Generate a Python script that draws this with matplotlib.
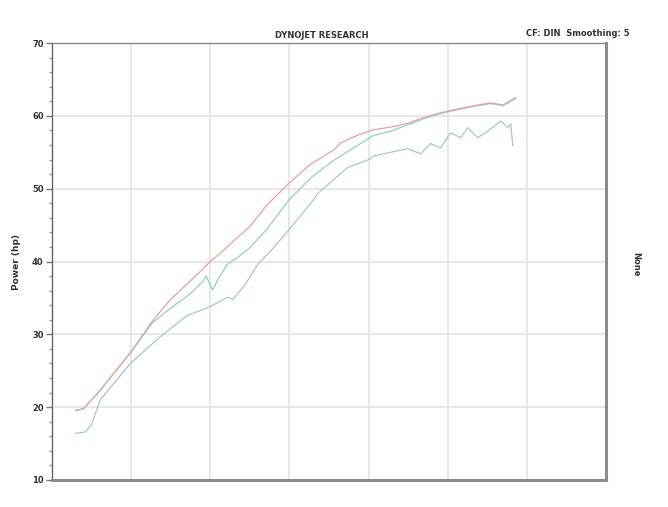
import numpy as np
import matplotlib.pyplot as plt
from matplotlib.ticker import MultipleLocator, NullFormatter

# dyno run data (rpm vs hp)
rpm_a = [2300, 2400, 2600, 3000, 3280, 3500, 3870, 4000, 4165, 4290, 4500, 4720, 4990,
         5270, 5560, 5650, 5850, 6060, 6300, 6500, 6700, 6900, 7100, 7330, 7540, 7700, 7860]
hp_a = [19.5, 19.8, 22.2, 27.6, 32.0, 34.8, 38.6, 40.0, 41.5, 42.8, 44.8, 47.8, 50.7,
        53.4, 55.3, 56.3, 57.3, 58.1, 58.5, 59.0, 59.8, 60.4, 60.9, 61.4, 61.8, 61.5, 62.5]

rpm_b = [2300, 2400, 2600, 3000, 3270, 3500, 3750, 3910, 3950, 4030, 4100, 4215, 4350, 4500,
         4720, 4990, 5270, 5560, 5810, 6060, 6280, 6500, 6700, 6900, 7100, 7330, 7540, 7700, 7860]
hp_b = [19.6, 19.8, 22.2, 27.6, 31.6, 33.6, 35.6, 37.3, 38.0, 36.1, 37.6, 39.6, 40.6, 41.9,
        44.5, 48.4, 51.5, 53.9, 55.6, 57.3, 57.9, 58.8, 59.6, 60.3, 60.8, 61.3, 61.7, 61.4, 62.4]

rpm_c = [2300, 2420, 2500, 2610, 2990, 3370, 3710, 4000, 4215, 4290, 4450, 4600, 4800,
         4990, 5300, 5354, 5734, 6025, 6063, 6494, 6658, 6785, 6911, 7038, 7165, 7253,
         7380, 7506, 7671, 7759, 7797, 7823]
hp_c = [16.4, 16.6, 17.6, 21.0, 26.0, 29.7, 32.6, 33.8, 35.1, 34.8, 37.0, 39.6, 41.9,
        44.3, 48.4, 49.3, 52.9, 54.1, 54.5, 55.5, 54.8, 56.2, 55.6, 57.7, 57.0, 58.4,
        57.0, 57.9, 59.3, 58.4, 58.9, 55.9]

fig = plt.figure(figsize=(6.68, 5.07), dpi=100)
ax = fig.add_axes([0.0778, 0.0533, 0.8293, 0.8617])

ax.plot(rpm_c, hp_c, color='#a3cbc0', lw=0.9)
ax.plot(rpm_b, hp_b, color='#93d1bf', lw=0.9)
ax.plot(rpm_a, hp_a, color='#e8a0a0', lw=0.9)

ax.set_xlim(2000, 9000)
ax.set_ylim(10, 70)
ax.xaxis.set_major_locator(MultipleLocator(1000))
ax.xaxis.set_major_formatter(NullFormatter())
ax.tick_params(axis='x', length=0)
ax.yaxis.set_major_locator(MultipleLocator(10))
ax.yaxis.set_minor_locator(MultipleLocator(2))
ax.tick_params(axis='y', which='major', length=4, width=1, color='#777777',
               labelsize=6, labelcolor='#333333', pad=2)
ax.tick_params(axis='y', which='minor', length=2.5, width=1, color='#999999')
for lbl in ax.get_yticklabels():
    lbl.set_fontweight('bold')

ax.grid(True, which='major', color='#e5e5e5', lw=1.3)
ax.set_axisbelow(True)

ax.spines['left'].set_color('#666666')
ax.spines['left'].set_linewidth(1.0)
ax.spines['top'].set_color('#888888')
ax.spines['top'].set_linewidth(1.0)
ax.spines['right'].set_color('#8c8c8c')
ax.spines['right'].set_linewidth(2.2)
ax.spines['bottom'].set_color('#8c8c8c')
ax.spines['bottom'].set_linewidth(2.2)

ax.set_ylabel('Power (hp)', fontsize=6.5, fontweight='bold', color='#333333', labelpad=8)

fig.text(0.482, 0.93, 'DYNOJET RESEARCH', ha='center', va='center',
         fontsize=6, fontweight='bold', color='#333333')
fig.text(0.788, 0.933, 'CF: DIN  Smoothing: 5', ha='left', va='center',
         fontsize=6, fontweight='bold', color='#333333')
fig.text(0.952, 0.478, 'None', ha='center', va='center', rotation=270,
         fontsize=6, fontweight='bold', color='#333333')

fig.savefig('out.png', dpi=100)
